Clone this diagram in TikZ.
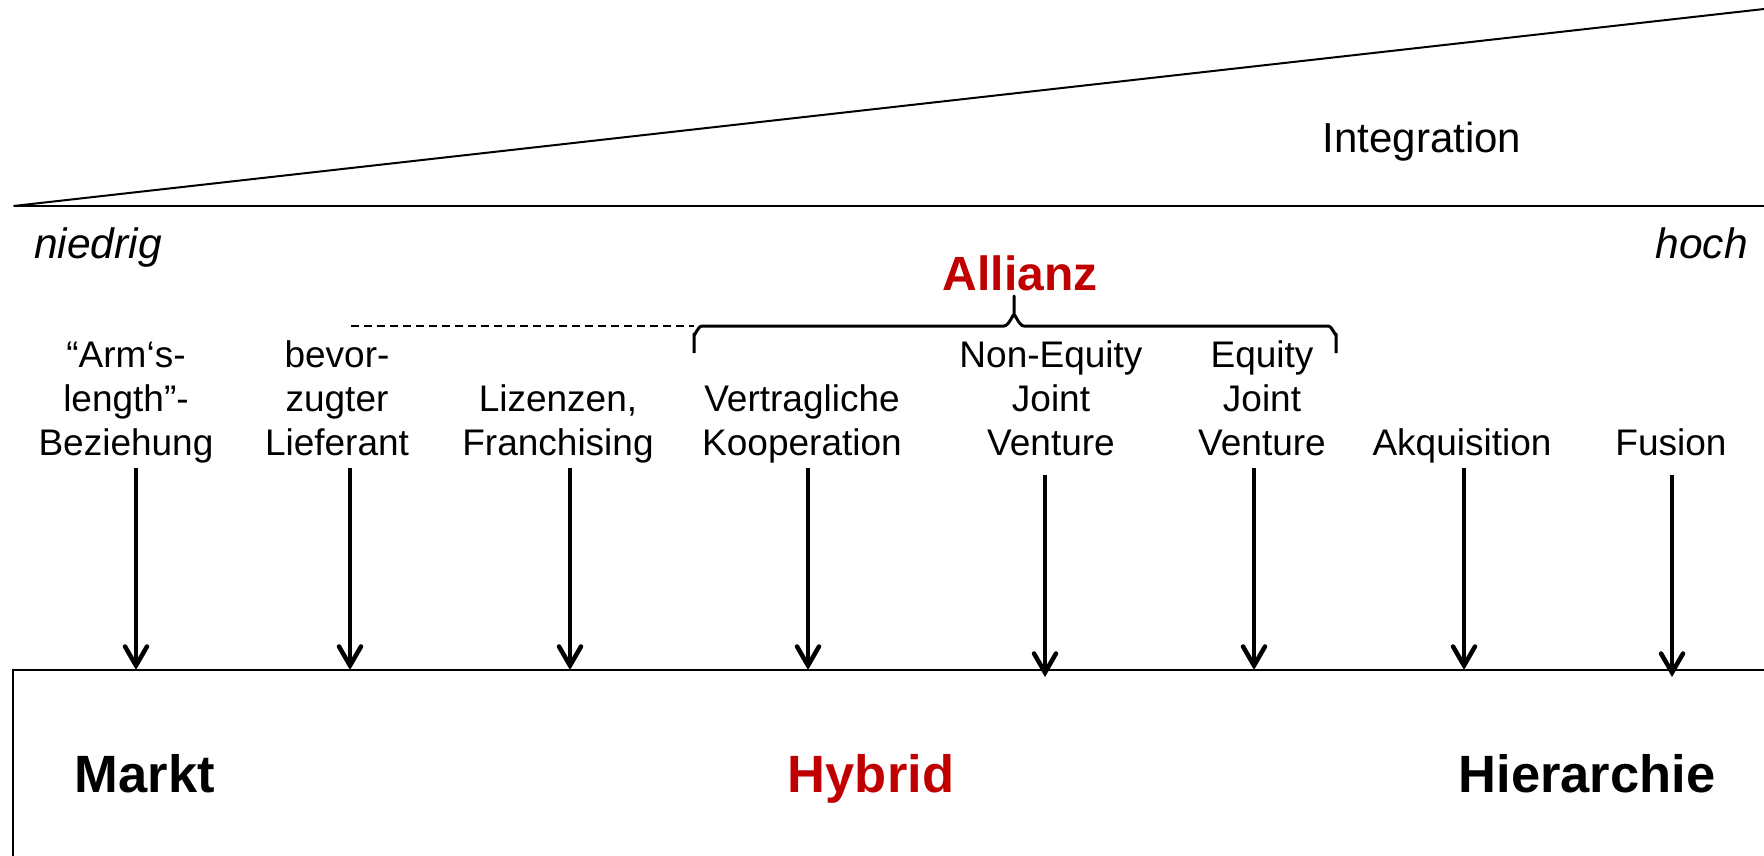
\documentclass[tikz,border=0pt]{standalone}
\usepackage{fontspec}
\setmainfont{Liberation Sans}
\usetikzlibrary{arrows.meta}
\definecolor{allred}{RGB}{192,0,0}
\tikzset{
  lbl/.style={anchor=base, inner sep=0pt, font=\fontsize{37}{44}\selectfont},
  endlbl/.style={anchor=base, inner sep=0pt, font=\fontsize{42.5}{50}\selectfont\itshape},
  big/.style={anchor=base, inner sep=0pt, font=\fontsize{52.5}{60}\selectfont\bfseries},
  arr/.style={line width=4.5pt, -{Straight Barb[length=19pt,width=22pt,line cap=round]}},
  thinline/.style={line width=2pt},
  bracestyle/.style={line width=3pt, line join=round},
  dashline/.style={line width=1.5pt, dash pattern=on 8pt off 5pt}
}
\begin{document}
\begin{tikzpicture}[x=1pt,y=-1pt]
\useasboundingbox (0,0) rectangle (1764,855);
\clip (0,0) rectangle (1764,855);
% integration wedge
\coordinate (apex) at (13.5,206);
\coordinate (wedgeR) at (1764,9);
\coordinate (axisR) at (1764,206);
\draw[thinline] (apex) -- (wedgeR);
\draw[line width=2.2pt] (apex) -- (axisR);
\node[anchor=base, inner sep=0pt, font=\fontsize{42}{50}\selectfont] (integ) at (1422,152) {Integration};
\node[endlbl, anchor=base west] (low) at (34,258) {niedrig};
\node[endlbl, anchor=base east] (high) at (1748,258) {hoch};
% Allianz brace
\node[anchor=base, inner sep=0pt, font=\fontsize{48}{56}\selectfont\bfseries, text=allred] (allianz) at (1020,290) {Allianz};
\coordinate (bL) at (694,353);
\coordinate (bR) at (1336,353);
\coordinate (bT) at (1014,296);
\coordinate (dS) at (351,326);
\coordinate (dE) at (694,326);
\draw[dashline] (dS) -- (dE);
\draw[bracestyle] (bL) -- (694,334) to[out=-90,in=180] (702,326) -- (1004,326)
  to[out=0,in=90] (1014,316) -- (bT) -- (1014,316) to[out=90,in=180] (1024,326)
  -- (1328,326) to[out=0,in=-90] (1336,334) -- (bR);
% labels
\node[lbl] (l1) at (126,455) {\begin{tabular}[b]{@{}c@{}}“Arm‘s-\\length”-\\Beziehung\end{tabular}};
\node[lbl] (l2) at (337,455) {\begin{tabular}[b]{@{}c@{}}bevor-\\zugter\\Lieferant\end{tabular}};
\node[lbl] (l3) at (558,455) {\begin{tabular}[b]{@{}c@{}}Lizenzen,\\Franchising\end{tabular}};
\node[lbl] (l4) at (802,455) {\begin{tabular}[b]{@{}c@{}}Vertragliche\\Kooperation\end{tabular}};
\node[lbl] (l5) at (1051,455) {\begin{tabular}[b]{@{}c@{}}Non-Equity\\Joint\\Venture\end{tabular}};
\node[lbl] (l6) at (1262,455) {\begin{tabular}[b]{@{}c@{}}Equity\\Joint\\Venture\end{tabular}};
\node[lbl] (l7) at (1462,455) {Akquisition};
\node[lbl] (l8) at (1671,455) {Fusion};
% box
\coordinate (boxTL) at (13,670);
\draw[thinline] (13,900) -- (boxTL) -- (1800,670);
% arrows
\foreach \i/\x/\ys/\ye in {1/136/468/670, 2/350/468/670, 3/570/468/670, 4/808/468/670,
  5/1045/475/677, 6/1254/468/670, 7/1464/468/670, 8/1672/475/677} {
  \coordinate (s\i) at (\x,\ys);
  \coordinate (e\i) at (\x,\ye);
  \draw[arr] (s\i) -- (e\i);
}
% bottom labels
\node[big] (markt) at (145,792) {Markt};
\node[big, text=allred] (hybrid) at (871,792) {Hybrid};
\node[big] (hier) at (1587,792) {Hierarchie};
\end{tikzpicture}
\end{document}
